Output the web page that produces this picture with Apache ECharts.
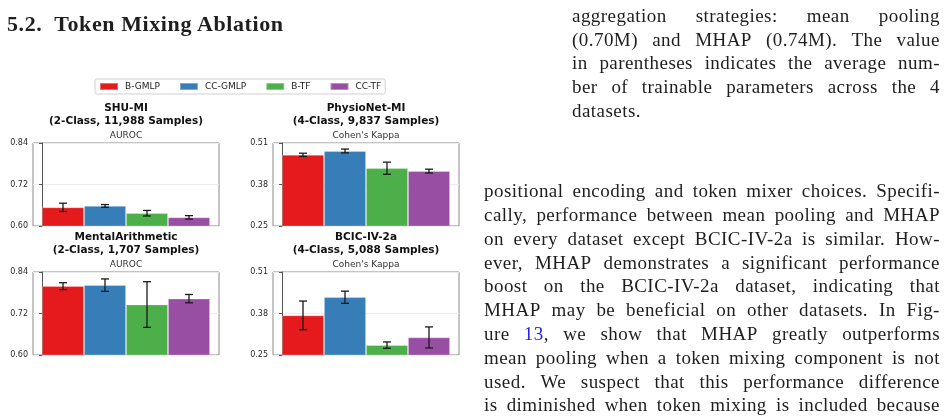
<!DOCTYPE html>
<html>
<head>
<meta charset="utf-8">
<script src="https://cdn.jsdelivr.net/npm/echarts@6/dist/echarts.min.js"></script>
<style>
  html, body { margin: 0; padding: 0; background: #fff; }
  #page { position: relative; width: 948px; height: 419px; overflow: hidden; }
  #chart { position: absolute; left: 0; top: 0; width: 948px; height: 419px; }
  .ln { position: absolute; display: flex; justify-content: space-between; align-items: baseline;
        font-family: "Liberation Serif", "DejaVu Serif", serif; font-size: 19px; line-height: 19px;
        letter-spacing: 0.45px; color: #1e1e1e; white-space: nowrap; }
  .ln.last { justify-content: flex-start; }
  .ln.last span { margin-right: 5px; }
  .head { position: absolute; left: 7px; font-family: "Liberation Serif", serif; font-weight: bold;
          font-size: 22px; line-height: 22px; letter-spacing: 0.6px; color: #1e1e1e; white-space: pre; }
  .ref { color: #2222ee; }
</style>
</head>
<body>
<div id="page">
  <div id="chart"></div>
</div>
<script>
// ---- data ----
const methods = ["B-GMLP", "CC-GMLP", "B-TF", "CC-TF"];
const colors = ["#e41a1c", "#377eb8", "#4daf4a", "#984ea3"];

const datasets = ["SHU-MI", "PhysioNet-MI", "MentalArithmetic", "BCIC-IV-2a"];
const sampleInfo = [
  "(2-Class, 11,988 Samples)",
  "(4-Class, 9,837 Samples)",
  "(2-Class, 1,707 Samples)",
  "(4-Class, 5,088 Samples)",
];
const metrics = ["AUROC", "Cohen's Kappa", "AUROC", "Cohen's Kappa"];

// mean / error per method (B-GMLP, CC-GMLP, B-TF, CC-TF)
const shuMean = [0.654, 0.658, 0.637, 0.625];
const shuErr = [0.012, 0.004, 0.008, 0.005];
const physioMean = [0.473, 0.485, 0.431, 0.422];
const physioErr = [0.005, 0.006, 0.019, 0.006];
const mentalMean = [0.799, 0.802, 0.746, 0.763];
const mentalErr = [0.010, 0.018, 0.066, 0.012];
const bcicMean = [0.374, 0.431, 0.281, 0.305];
const bcicErr = [0.045, 0.019, 0.010, 0.033];

// y tick labels per metric
const aurocTicks = [0.60, 0.72, 0.84];
const kappaTicks = [0.25, 0.38, 0.51];

const means = [shuMean, physioMean, mentalMean, bcicMean];
const errs = [shuErr, physioErr, mentalErr, bcicErr];
const ticks = [aurocTicks, kappaTicks, aurocTicks, kappaTicks];

// ---- page text ----
const headText = "5.2.  Token Mixing Ablation";
const colText1 = [
  "aggregation strategies: mean pooling",
  "(0.70M) and MHAP (0.74M). The value",
  "in parentheses indicates the average num-",
  "ber of trainable parameters across the 4",
  "datasets.",
];
const colText2 = [
  "positional encoding and token mixer choices. Specifi-",
  "cally, performance between mean pooling and MHAP",
  "on every dataset except BCIC-IV-2a is similar. How-",
  "ever, MHAP demonstrates a significant performance",
  "boost on the BCIC-IV-2a dataset, indicating that",
  "MHAP may be beneficial on other datasets. In Fig-",
  "ure [13], we show that MHAP greatly outperforms",
  "mean pooling when a token mixing component is not",
  "used. We suspect that this performance difference",
  "is diminished when token mixing is included because",
];

const page = document.getElementById("page");
const head = document.createElement("div");
head.className = "head";
head.style.top = "13px";
head.textContent = headText;
page.appendChild(head);

function addLines(lines, left, width, firstBase, step, lastLeft) {
  lines.forEach((txt, i) => {
    const d = document.createElement("div");
    d.className = "ln" + (lastLeft && i === lines.length - 1 ? " last" : "");
    d.style.left = left + "px";
    d.style.width = width + "px";
    d.style.top = (firstBase + i * step - 15.9) + "px";
    txt.split(" ").forEach((w) => {
      const s = document.createElement("span");
      s.innerHTML = w.replace(/\[(.*?)\]/, '<span class="ref">$1</span>');
      d.appendChild(s);
    });
    page.appendChild(d);
  });
}
addLines(colText1, 572, 368, 22, 23.6, true);
addLines(colText2, 484, 456, 197, 23.8, false);

// ---- chart ----
var myChart = echarts.init(document.getElementById("chart"));

// panel boxes in page pixels
const panels = [
  { left: 33, top: 143 },
  { left: 273, top: 143 },
  { left: 33, top: 272 },
  { left: 273, top: 272 },
];
const plotW = 186;
const plotH = 83;

let grids = [], xAxes = [], yAxes = [], titles = [], series = [];

panels.forEach((p, k) => {
  grids.push({
    left: p.left, top: p.top, width: plotW, height: plotH,
    show: true, borderColor: "#8a8a8a", borderWidth: 1, backgroundColor: "#fff",
  });
  xAxes.push({
    gridIndex: k, type: "value", min: -0.2143, max: methods.length + 0.2143,
    show: false,
  });
  const t = ticks[k];
  yAxes.push({
    gridIndex: k, type: "value",
    min: t[0], max: t[t.length - 1], interval: +(t[1] - t[0]).toFixed(2),
    axisLine: { show: true, lineStyle: { color: "#555", width: 1 } },
    axisTick: { show: true, length: 3, lineStyle: { color: "#555" } },
    axisLabel: {
      color: "#2a2a2a", fontSize: 8, margin: 5, fontFamily: "DejaVu Sans",
      formatter: (v) => v.toFixed(2),
    },
    splitLine: { show: true, lineStyle: { color: "#ececec", width: 1 } },
  });
  titles.push({
    text: datasets[k] + "\n" + sampleInfo[k],
    subtext: metrics[k],
    left: p.left + plotW / 2,
    top: p.top - 41.2,
    textAlign: "center",
    padding: 0,
    itemGap: 3,
    textStyle: { fontSize: 10.5, fontWeight: "bold", color: "#111", lineHeight: 12.7, fontFamily: "DejaVu Sans" },
    subtextStyle: { fontSize: 9, color: "#333", lineHeight: 10, fontFamily: "DejaVu Sans" },
  });

  methods.forEach((m, i) => {
    series.push({
      name: m,
      type: "bar",
      xAxisIndex: k, yAxisIndex: k,
      barWidth: 42,
      barGap: "-100%",
      itemStyle: { color: colors[i], borderColor: "rgba(255,255,255,0.35)", borderWidth: 0.8 },
      data: [[i + 0.5, means[k][i]]],
      z: 2,
    });
  });

  // error bars
  series.push({
    type: "custom",
    xAxisIndex: k, yAxisIndex: k,
    z: 5,
    data: methods.map((m, i) => [i + 0.5, means[k][i], errs[k][i]]),
    renderItem: function (params, api) {
      const x = api.value(0), v = api.value(1), e = api.value(2);
      const hi = api.coord([x, v + e]);
      const lo = api.coord([x, v - e]);
      const cap = 4;
      const st = { stroke: "#1a1a1a", lineWidth: 1.3 };
      return {
        type: "group",
        children: [
          { type: "line", shape: { x1: hi[0], y1: hi[1], x2: lo[0], y2: lo[1] }, style: st },
          { type: "line", shape: { x1: hi[0] - cap, y1: hi[1], x2: hi[0] + cap, y2: hi[1] }, style: st },
          { type: "line", shape: { x1: lo[0] - cap, y1: lo[1], x2: lo[0] + cap, y2: lo[1] }, style: st },
        ],
      };
    },
  });
});

let option = {
  animation: false,
  backgroundColor: "#fff",
  textStyle: { fontFamily: "DejaVu Sans" },
  title: titles,
  legend: {
    left: 95, top: 79,
    padding: [3, 4, 3, 4],
    icon: "rect",
    itemWidth: 18, itemHeight: 7, itemGap: 19,
    borderColor: "#d0d0d0", borderWidth: 1, borderRadius: 2,
    textStyle: { fontSize: 9, color: "#222", fontFamily: "DejaVu Sans", padding: [0, 0, 0, 2] },
    data: methods.map((m, i) => ({ name: m, itemStyle: { color: colors[i] } })),
  },
  grid: grids,
  xAxis: xAxes,
  yAxis: yAxes,
  series: series,
};

myChart.setOption(option);
window.addEventListener("resize", () => {
  if (myChart) myChart.resize();
});
</script>
</body>
</html>
